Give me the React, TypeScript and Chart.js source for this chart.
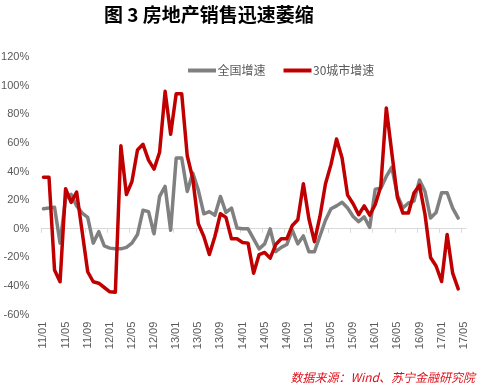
import React, { useEffect, useRef } from "react";
import { Chart, registerables } from "chart.js";

Chart.register(...registerables);

const TITLE = "图 3 房地产销售迅速萎缩";
const SOURCE = "数据来源：Wind、苏宁金融研究院";

const months: string[] = [
  "11/01","11/02","11/03","11/04","11/05","11/06","11/07","11/08","11/09","11/10","11/11","11/12",
  "12/01","12/02","12/03","12/04","12/05","12/06","12/07","12/08","12/09","12/10","12/11","12/12",
  "13/01","13/02","13/03","13/04","13/05","13/06","13/07","13/08","13/09","13/10","13/11","13/12",
  "14/01","14/02","14/03","14/04","14/05","14/06","14/07","14/08","14/09","14/10","14/11","14/12",
  "15/01","15/02","15/03","15/04","15/05","15/06","15/07","15/08","15/09","15/10","15/11","15/12",
  "16/01","16/02","16/03","16/04","16/05","16/06","16/07","16/08","16/09","16/10","16/11","16/12",
  "17/01","17/02","17/03","17/04","17/05",
];

const nationalGrowth: (number | null)[] = [
  14, 14.5, 15, -10, 21, 24, 16, 11, 8, -10,
  -2, -12, -13.5, -14, -14, -13, -10, -4, 13, 12,
  -3.5, 22.6, 29.6, -1, 49.4, 49.4, 26, 39, 27, 10.5,
  12, 9.5, 22.6, 11.4, 14.5, 0.5, 0, 0, -7, -14,
  -10.5, 0, -16, -13, -11, -1, -10.5, -5, -16, -16,
  -5, 6, 14, 16, 18.5, 14.5, 8.6, 5, 8.3, 1,
  27.7, 28.4, 36.6, 43, 23.5, 14.5, 18, 19.3, 34, 26,
  7.5, 11.4, 25.2, 25.2, 14.5, 7.5, null,
];

const city30Growth: (number | null)[] = [
  36, 36, -28.7, -37, 28, 18.5, 25.6, -2, -30, -37,
  -38, -41, -44, -44.3, 58, 24, 33, 55, 59, 48,
  41.7, 53.5, 96, 66, 94.4, 94.4, 51, 35, 3.5, -5.4,
  -18, -5.4, 10.5, 8, -7, -7, -9.6, -10, -31, -18,
  -16.5, -20.5, -11, -7, -7, 2.3, 6.3, 31.5, 7, -9,
  8.6, 31.5, 45, 62.7, 49.4, 23.5, 17.5, 9.8, 16, 9.5,
  17, 29.6, 84.4, 53, 22, 11, 11, 25, 30.5, 10,
  -20, -26, -36.8, -4, -31, -42, null,
];

const seriesNames = ["全国增速", "30城市增速"];
const seriesColors = ["#808080", "#c00000"];

const CJK = '"Noto Sans CJK SC", "Liberation Sans", sans-serif';
const NUM = '"Liberation Sans", "Noto Sans CJK SC", sans-serif';
const TEXT_GRAY = "#595959";

const decorPlugin = {
  id: "decor",
  beforeDatasetsDraw(chart: any) {
    const { ctx } = chart;
    const xs = chart.scales.x;
    const ys = chart.scales.y;
    const y0 = ys.getPixelForValue(0);
    const half = (xs.getPixelForValue(1) - xs.getPixelForValue(0)) / 2;
    ctx.save();
    ctx.strokeStyle = "#d9d9d9";
    ctx.lineWidth = 1;
    for (let i = 0; i < months.length; i += 4) {
      const px = Math.round(xs.getPixelForValue(i) - half) + 0.5;
      ctx.beginPath();
      ctx.moveTo(px, y0);
      ctx.lineTo(px, y0 + 4);
      ctx.stroke();
    }
    ctx.restore();
  },
  afterDraw(chart: any) {
    const { ctx } = chart;
    ctx.save();
    // title
    ctx.fillStyle = "#000000";
    ctx.font = `bold 19px ${CJK}`;
    ctx.textAlign = "left";
    ctx.textBaseline = "middle";
    ctx.fillText(TITLE, 104, 15);

    // legend
    ctx.font = `12px ${CJK}`;
    let x = 188;
    const ly = 70.5;
    chart.data.datasets.forEach((ds: any) => {
      ctx.strokeStyle = ds.borderColor;
      ctx.lineWidth = 4;
      ctx.lineCap = "butt";
      ctx.beginPath();
      ctx.moveTo(x, ly);
      ctx.lineTo(x + 28, ly);
      ctx.stroke();
      ctx.fillStyle = TEXT_GRAY;
      ctx.textAlign = "left";
      ctx.fillText(ds.label, x + 29.5, ly);
      x += 29.5 + ctx.measureText(ds.label).width + 18;
    });

    // source
    ctx.fillStyle = "#e0101a";
    ctx.font = `italic 12px ${CJK}`;
    ctx.textAlign = "right";
    ctx.fillText(SOURCE, 475, 377.5);
    ctx.restore();
  },
};

export default function App() {
  const ref = useRef<HTMLCanvasElement | null>(null);

  useEffect(() => {
    if (!ref.current) return;
    const chart = new Chart(ref.current, {
      type: "line",
      data: {
        labels: months,
        datasets: [
          {
            label: seriesNames[0],
            data: nationalGrowth,
            borderColor: seriesColors[0],
            backgroundColor: seriesColors[0],
            borderWidth: 3.5,
            pointRadius: 0,
            tension: 0,
            borderJoinStyle: "round",
            borderCapStyle: "round",
            order: 1,
          },
          {
            label: seriesNames[1],
            data: city30Growth,
            borderColor: seriesColors[1],
            backgroundColor: seriesColors[1],
            borderWidth: 3.5,
            pointRadius: 0,
            tension: 0,
            borderJoinStyle: "round",
            borderCapStyle: "round",
            order: 0,
          },
        ],
      },
      options: {
        responsive: false,
        animation: false,
        layout: { padding: { top: 57, right: 11, bottom: 33, left: 0 } },
        plugins: {
          legend: { display: false },
          title: { display: false },
          tooltip: { enabled: false },
        },
        scales: {
          x: {
            type: "category",
            offset: true,
            grid: { display: false, drawTicks: false },
            border: { display: false },
            ticks: {
              autoSkip: false,
              minRotation: 90,
              maxRotation: 90,
              padding: 7,
              color: TEXT_GRAY,
              font: { family: NUM, size: 11 },
              callback: (_v: any, i: number) => (i % 4 === 0 ? months[i] : ""),
            },
            afterFit: (scale: any) => {
              scale.height = 40.3;
            },
          },
          y: {
            min: -60,
            max: 120,
            border: { display: false },
            grid: {
              drawTicks: false,
              color: (c: any) => (c.tick && c.tick.value === 0 ? "#d9d9d9" : "rgba(0,0,0,0)"),
              lineWidth: 1,
            },
            ticks: {
              stepSize: 20,
              padding: 11.5,
              color: TEXT_GRAY,
              font: { family: NUM, size: 11 },
              callback: (v: any) => `${v}%`,
            },
            afterFit: (scale: any) => {
              scale.width = 40.7;
            },
          },
        },
      },
      plugins: [decorPlugin],
    });
    return () => chart.destroy();
  }, []);

  return (
    <div style={{ position: "fixed", left: 0, top: 0, width: 484, height: 388, background: "#fff" }}>
      <canvas ref={ref} width={484} height={388} style={{ display: "block" }} />
    </div>
  );
}
